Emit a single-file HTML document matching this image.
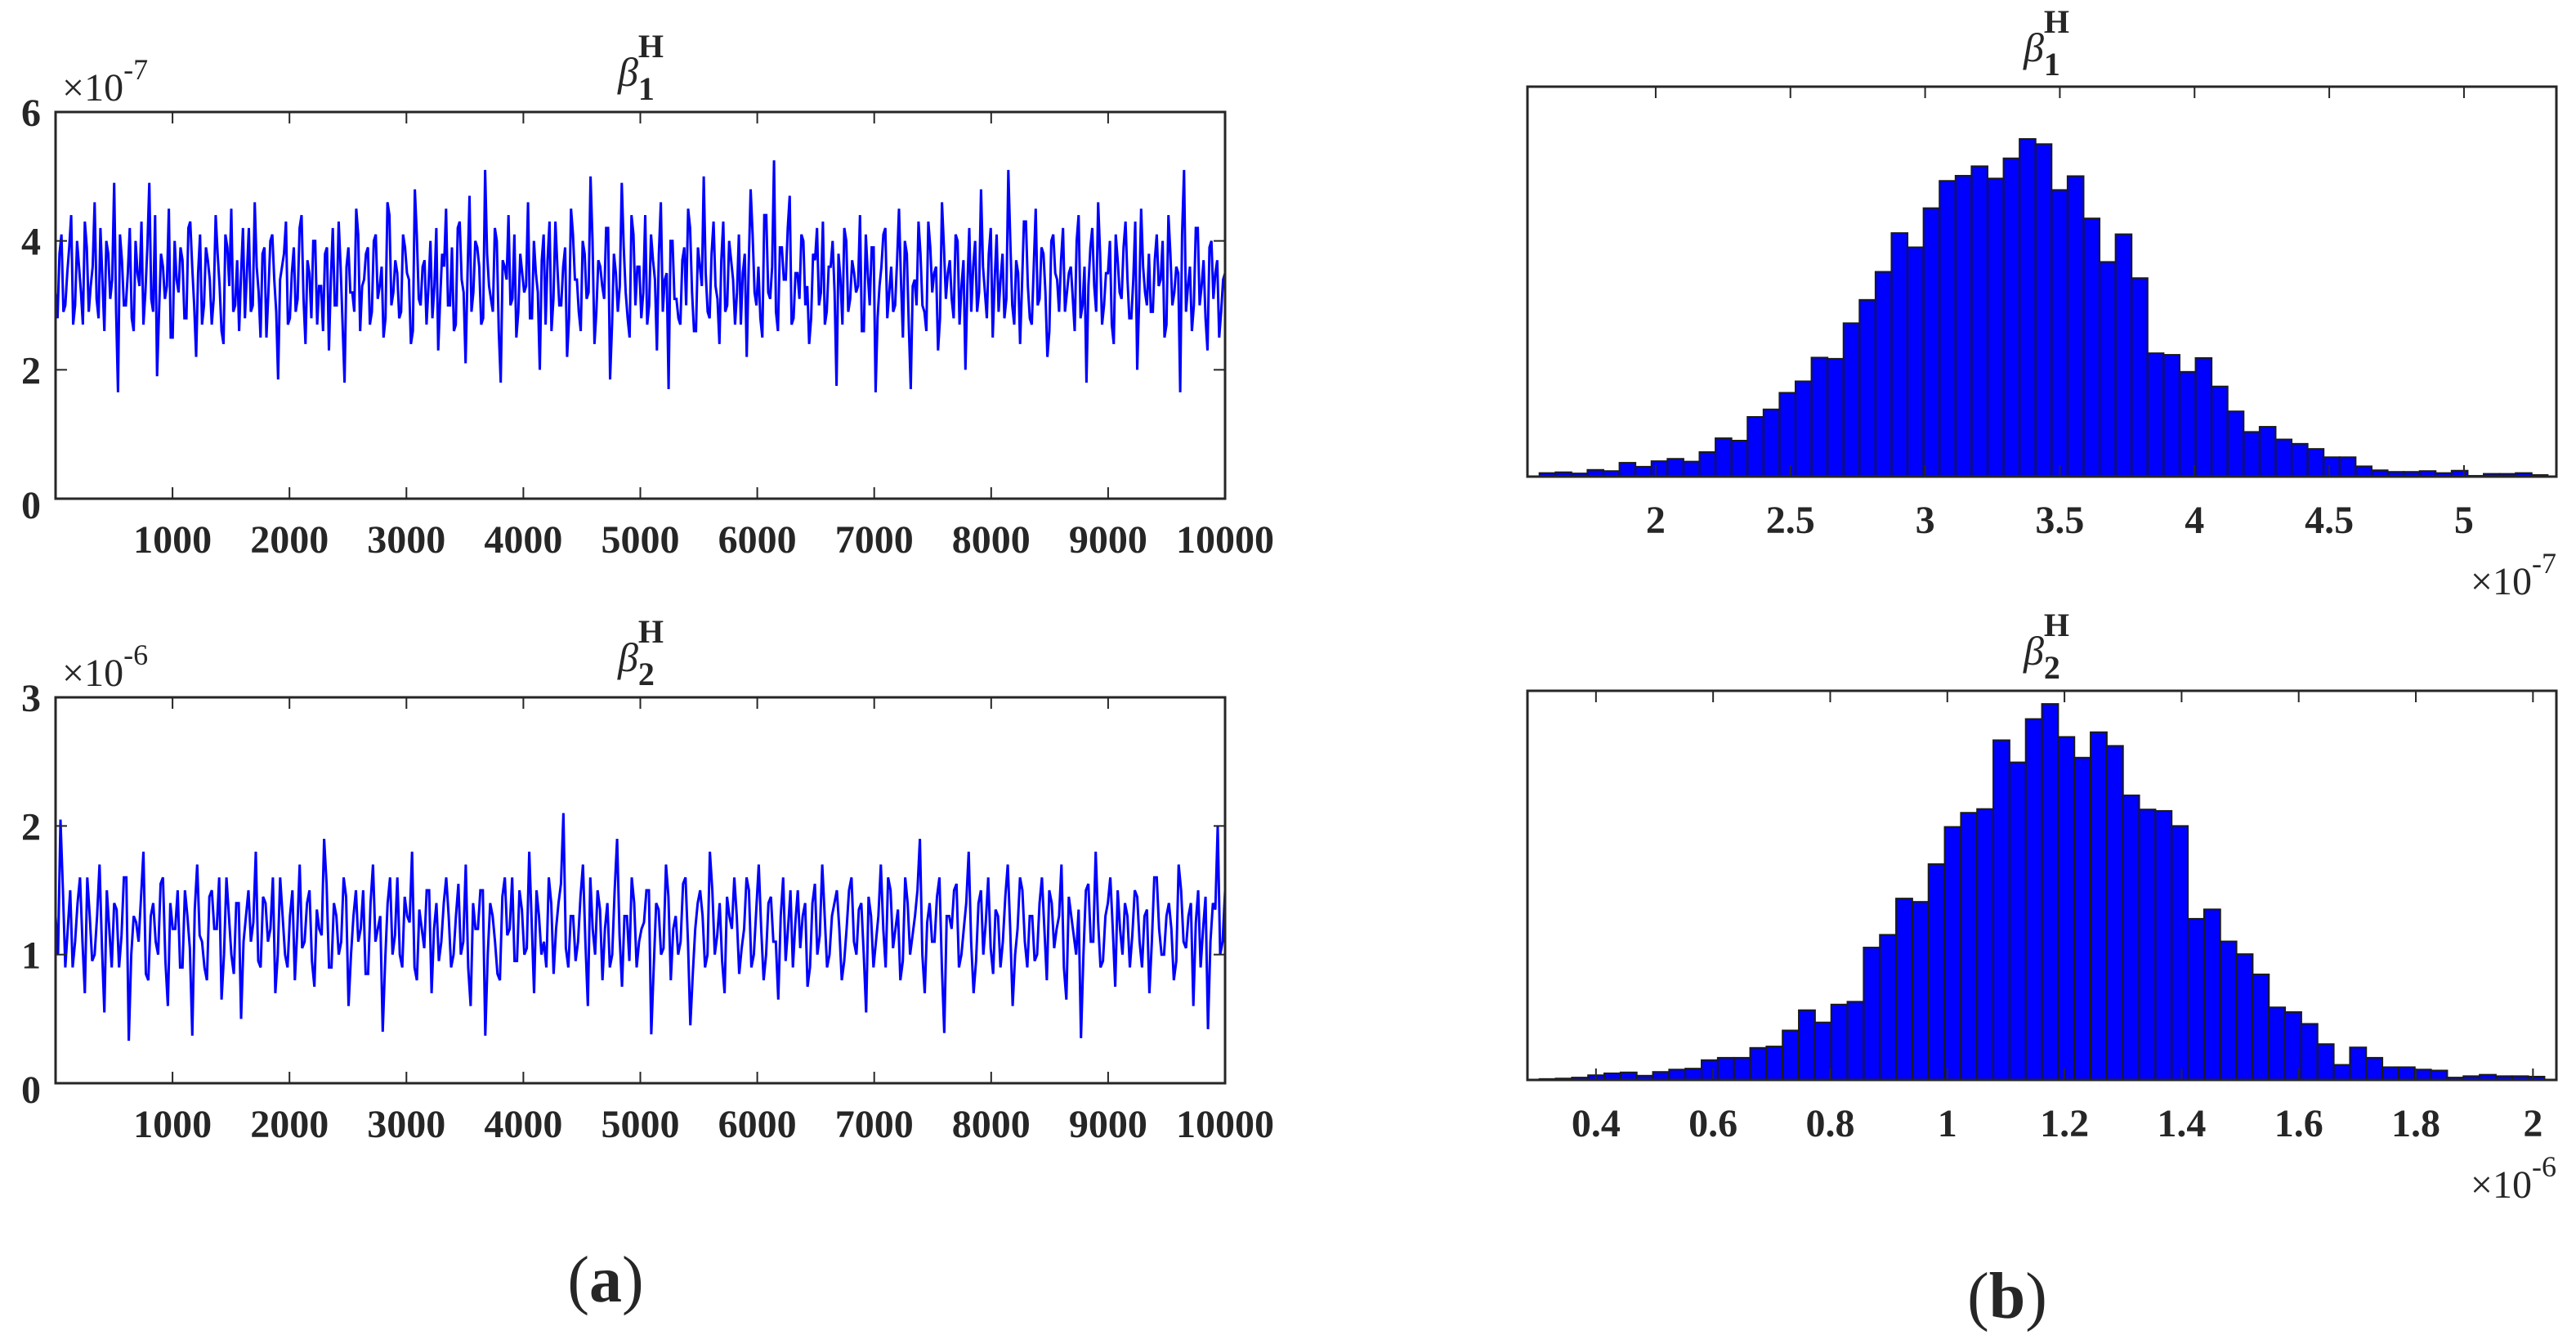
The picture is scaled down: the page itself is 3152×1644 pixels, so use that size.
<!DOCTYPE html>
<html><head><meta charset="utf-8"><style>
body{margin:0;background:#fff}
svg{display:block}
text{font-family:"Liberation Serif",serif;fill:#262626}
.tk{font-weight:bold;font-size:48px}
</style></head><body>
<svg id="fig" width="3152" height="1644" viewBox="0 0 3152 1644" xmlns="http://www.w3.org/2000/svg"></svg>
<script>
const trace1a = [3.2,3.8,2.9,3.5,4.4,3.0,3.6,2.7,3.9,3.3,4.6,2.8,3.4,4.0,3.1,4.9,1.65,3.7,3.0,4.2,
2.6,3.5,4.3,3.2,4.9,2.9,1.9,3.8,3.1,4.5,2.5,3.4,3.9,2.8,4.2,3.6,2.2,4.1,3.0,3.7,
2.7,4.4,3.3,2.4,3.9,4.5,3.0,2.6,4.2,3.5,2.9,4.6,3.2,3.8,2.5,4.0,3.4,1.85,3.6,4.3,
2.8,3.9,3.1,4.4,2.4,3.5,4.0,2.7,3.3,3.8,2.3,4.2,3.0,3.6,1.8,3.9,3.2,4.5,2.6,3.4,
3.9,2.9,4.1,3.3,2.5,4.6,3.0,3.7,2.8,4.1,3.5,2.4,4.8,3.1,3.6,2.7,4.0,3.3,2.3,3.8,
4.5,3.0,2.6,4.2,3.4,2.1,4.7,3.2,3.9,2.7,5.1,3.3,2.9,4.0,1.8,3.6,4.4,3.1,2.5,3.8,
3.2,4.6,2.8,3.5,2.0,4.1,3.7,2.6,4.3,3.0,3.6,2.2,4.5,3.4,2.9,4.0,3.1,5.0,2.4,3.7,
3.3,4.2,1.85,3.8,2.9,4.9,3.2,2.5,4.1,3.6,2.8,4.4,3.0,3.7,2.3,4.6,3.4,1.7,4.0,3.1,
2.7,3.9,4.5,3.2,2.6,3.6,5.0,2.9,3.8,3.3,2.4,4.3,3.0,3.7,2.7,4.1,3.5,2.2,4.8,3.2,
3.6,2.5,4.4,3.1,5.25,2.6,3.9,3.4,4.7,2.8,3.5,4.1,3.0,2.4,3.8,4.2,3.2,2.7,3.6,4.0,
1.75,3.4,4.2,2.9,3.7,3.2,4.4,2.6,3.5,3.9,1.65,3.3,4.1,2.8,3.6,3.0,4.5,2.5,3.8,1.7,
3.4,4.3,3.0,2.6,3.9,3.5,2.3,4.6,3.1,3.7,2.8,4.0,3.3,2.0,4.2,3.6,2.9,4.8,3.2,3.8,
2.5,4.1,3.4,2.8,5.1,3.0,3.7,2.4,4.3,3.3,2.7,4.5,3.1,3.8,2.2,4.0,3.5,2.9,4.2,3.2,
3.6,2.6,4.4,3.0,1.8,3.9,3.3,4.6,2.7,3.5,4.0,2.4,3.7,3.1,4.3,2.8,3.4,2.0,4.5,3.2,
3.8,2.9,4.1,3.4,2.5,4.4,3.0,3.6,1.65,5.1,3.3,2.6,4.2,3.0,3.7,2.3,4.0,3.5,2.5,3.4];
const trace1b = [2.8,4.1,3.0,3.9,2.7,4.0,3.2,4.3,2.9,3.6,3.1,4.2,2.6,3.8,3.4,2.9,4.1,3.0,3.5,2.8,
4.0,3.3,2.7,3.9,3.1,4.4,2.9,3.6,3.3,2.5,4.0,3.2,3.7,2.8,4.3,3.0,3.5,2.7,3.9,3.4,
3.1,3.8,2.6,4.1,3.3,2.9,3.7,3.5,2.8,4.2,3.0,3.6,2.5,3.9,3.2,4.1,2.9,3.4,3.8,2.7,
3.5,2.9,4.2,3.1,3.7,2.8,4.0,3.3,2.6,3.9,3.4,3.0,4.3,2.7,3.6,3.2,2.9,4.1,3.3,3.8,
2.7,4.0,3.1,3.6,2.8,4.4,3.2,3.5,2.9,3.9,3.4,2.6,4.1,3.0,3.7,3.3,2.8,4.2,3.1,3.6,
3.0,3.9,2.7,4.3,3.2,3.5,2.9,4.0,3.6,2.8,3.8,3.1,4.2,2.6,3.7,3.4,3.0,4.1,2.9,3.5,
3.3,2.8,4.0,3.2,3.7,2.7,4.3,3.1,3.6,3.0,3.9,2.8,4.1,3.4,2.6,3.8,3.2,4.0,2.9,3.6,
3.1,4.2,2.7,3.5,3.3,3.9,2.8,4.4,3.0,3.6,3.2,2.7,4.1,3.4,3.8,2.9,3.5,4.0,3.1,2.8,
3.7,3.0,4.2,2.6,3.9,3.3,3.5,2.8,4.3,3.1,3.7,2.9,4.0,3.4,3.2,2.7,3.8,3.6,4.1,3.0,
2.8,4.4,3.2,3.6,2.9,3.9,3.4,4.2,2.7,3.5,3.1,4.0,3.3,2.8,3.7,3.0,4.3,2.9,3.6,3.2,
3.8,2.7,4.0,3.1,3.5,3.3,2.6,4.1,3.0,3.9,2.8,3.6,4.2,3.2,2.9,3.7,3.4,4.0,2.7,3.3,
3.0,3.8,2.9,4.3,3.2,3.6,2.8,3.9,3.5,3.1,4.1,2.7,3.7,3.3,2.9,4.0,3.2,3.6,2.8,4.2,
3.4,2.9,3.8,3.1,4.0,2.7,3.5,3.3,4.3,2.8,3.6,3.0,3.9,3.2,2.6,4.1,3.4,3.7,2.9,3.5,
3.1,4.0,2.8,3.6,3.3,4.2,2.9,3.8,3.0,3.5,2.7,4.1,3.2,3.9,3.4,2.8,4.3,3.1,3.6,3.0,
2.9,3.7,3.3,4.0,2.7,3.8,3.2,3.5,4.1,2.9,3.6,3.0,4.2,3.3,2.8,3.9,3.1,3.7,2.9,3.5];
const trace2a = [1.3,2.05,0.9,1.5,1.1,1.6,0.7,1.3,1.0,1.7,0.55,1.2,1.4,0.9,1.6,0.33,1.3,1.1,1.8,0.8,
1.4,1.0,1.6,0.6,1.2,1.5,0.9,1.3,0.37,1.7,1.1,0.8,1.5,1.2,0.65,1.6,1.0,1.4,0.5,1.3,
1.1,1.8,0.9,1.4,1.2,0.7,1.6,1.0,1.3,0.8,1.7,1.1,1.5,0.75,1.2,1.9,0.9,1.4,1.0,1.6,
0.6,1.3,1.1,1.5,0.85,1.7,1.2,0.4,1.4,1.0,1.6,0.9,1.3,1.8,0.8,1.2,1.5,0.7,1.4,1.1,
1.6,0.9,1.3,1.0,1.7,0.6,1.2,1.5,0.37,1.4,1.1,0.8,1.6,1.2,0.95,1.5,1.0,1.8,0.7,1.3,
1.1,1.6,0.85,1.4,2.1,0.9,1.3,1.1,1.7,0.6,1.2,1.5,0.8,1.4,1.0,1.9,0.75,1.3,1.6,0.9,
1.2,1.5,0.38,1.4,1.0,1.7,0.8,1.3,1.1,1.6,0.45,1.2,1.5,0.9,1.8,1.0,1.4,0.7,1.3,1.6,
0.85,1.2,1.5,1.0,1.7,0.8,1.4,1.1,0.65,1.6,1.2,0.9,1.5,1.3,0.75,1.4,1.0,1.7,0.9,1.3,
1.5,0.8,1.2,1.6,1.0,1.4,0.55,1.3,1.1,1.7,0.9,1.5,1.2,0.8,1.6,1.0,1.3,1.9,0.7,1.4,
1.1,1.6,0.39,1.3,1.5,0.9,1.2,1.8,0.7,1.4,1.0,1.6,0.85,1.3,1.1,1.7,0.6,1.2,1.5,0.9,
1.3,1.0,1.6,0.8,1.4,1.2,1.7,0.65,1.3,1.0,0.35,1.5,1.1,1.8,0.9,1.3,1.6,0.75,1.2,1.4,
0.9,1.5,1.1,1.3,0.7,1.6,1.2,1.0,1.4,0.8,1.7,1.1,1.3,0.6,1.5,1.2,0.42,1.4,2.0,1.1];
const trace2b = [1.0,1.5,1.2,0.9,1.4,1.1,1.6,0.95,1.3,1.05,1.5,0.9,1.35,1.15,1.6,1.0,1.25,1.45,0.85,1.3,
1.1,1.55,0.95,1.4,1.2,0.9,1.5,1.05,1.35,1.15,0.9,1.45,1.2,1.6,1.0,1.3,0.85,1.4,1.1,1.5,
1.25,0.95,1.45,1.1,1.6,1.0,1.3,0.9,1.5,1.2,1.05,1.4,0.95,1.35,1.15,1.55,0.9,1.3,1.1,1.45,
1.0,1.5,1.2,0.85,1.4,1.1,1.3,0.95,1.6,1.15,1.0,1.45,1.25,0.9,1.35,1.05,1.5,1.2,0.95,1.4,
1.3,1.0,1.55,1.1,0.9,1.4,1.2,1.5,1.0,1.3,0.85,1.45,1.15,1.6,0.95,1.35,1.05,1.25,1.5,1.0,
0.9,1.4,1.2,1.55,1.05,1.3,0.95,1.45,1.1,1.6,1.0,1.35,1.2,0.9,1.5,1.15,1.3,0.95,1.4,1.1,
1.25,1.5,0.9,1.35,1.05,1.45,1.2,1.0,1.55,1.1,0.85,1.4,1.3,1.0,1.5,1.15,0.95,1.45,1.2,1.3,
1.05,1.6,0.9,1.35,1.2,1.0,1.45,1.1,1.3,0.95,1.5,1.25,1.05,1.4,0.9,1.55,1.15,1.3,1.0,1.4,
1.2,0.95,1.5,1.1,1.35,1.0,1.45,0.9,1.3,1.2,1.6,1.05,1.35,0.95,1.4,1.15,1.5,1.0,1.25,1.1,
1.45,0.9,1.3,1.2,1.55,1.0,1.4,1.1,0.95,1.5,1.25,1.05,1.35,0.9,1.45,1.2,1.0,1.6,1.1,1.3,
0.95,1.4,1.2,1.5,1.05,1.3,0.9,1.45,1.15,1.35,1.0,1.55,1.1,1.25,0.95,1.4,1.2,1.5,1.0,1.3,
1.15,1.45,0.9,1.35,1.1,1.6,1.0,1.3,1.2,0.95,1.5,1.05,1.4,1.25,0.9,1.45,1.1,1.35,1.0,1.5];
const traceXTicks = [1000,2000,3000,4000,5000,6000,7000,8000,9000,10000];
const trace1YTicks = [0,2,4,6];
const trace2YTicks = [0,1,2,3];
const hist1Counts = [9,11,8,17,14,35,25,39,45,38,62,97,91,151,170,212,241,301,298,388,447,518,616,580,679,748,761,785,754,805,854,841,725,760,653,543,613,502,312,308,265,300,228,165,113,126,94,83,70,49,49,26,16,12,12,14,9,15,2,7,7,9,4];
const hist1Start = 1.5685, hist1Width = 0.0594;
const hist1Ticks = [2,2.5,3,3.5,4,4.5,5];
const hist2Counts = [2,3,5,10,14,16,9,17,22,24,42,47,47,68,71,105,148,122,160,166,281,308,385,378,458,537,567,575,721,674,766,798,728,684,738,709,604,574,571,539,342,362,294,267,224,154,144,119,76,32,69,47,27,27,22,20,5,8,11,8,8,7];
const hist2Start = 0.3035, hist2Width = 0.02768;
const hist2Ticks = [0.4,0.6,0.8,1,1.2,1.4,1.6,1.8,2];

const NS="http://www.w3.org/2000/svg", svg=document.getElementById('fig');
function mk(tag,attrs,parent){const e=document.createElementNS(NS,tag);for(const k in attrs)e.setAttribute(k,attrs[k]);(parent||svg).appendChild(e);return e;}
function scale(d0,d1,r0,r1){return v=>r0+(v-d0)/(d1-d0)*(r1-r0);}
function interleave(a,b){const out=[];for(let i=0;i<a.length;i++){out.push(a[i]);if(i<b.length)out.push(b[i]);}return out;}
function txt(s,x,y,cls,anchor,parent,name){const t=mk('text',{x:x,y:y,'text-anchor':anchor||'middle'},parent);if(cls)t.setAttribute('class',cls);t.textContent=s;

return t;}
function title(cx,base,sub,parent){const t=mk('text',{x:cx-30,y:base,'font-size':'50'},parent);


const b=mk('tspan',{'font-style':'italic'},t);b.textContent='β';
const s=mk('tspan',{'font-weight':'bold','font-size':'40',dy:'17'},t);s.textContent=sub;
const h=mk('tspan',{'font-weight':'bold','font-size':'40',dx:'-20',dy:'-52'},t);h.textContent='H';}
function expo(x,y,e,anchor,parent){const t=mk('text',{x:x,y:y,'font-size':'48','text-anchor':anchor},parent);


const a=mk('tspan',{},t);a.textContent='×10';const b=mk('tspan',{dy:'-26','font-size':'36'},t);b.textContent=e;}

function tracePlot(name,data,yTicks,ymax,top,bottom,exp){
  const g=mk('g',{});
  
  
  const L=68,R=1499;
  const xs=scale(0,10000,L,R), ys=scale(0,ymax,bottom,top);
  const n=data.length;
  const pts=data.map((v,i)=>xs(i*10000/(n-1)).toFixed(1)+','+ys(v).toFixed(1)).join(' ');
  const pl=mk('polyline',{points:pts,fill:'none',stroke:'#0000ff','stroke-width':'3','stroke-linejoin':'miter'},g);
  
  
  const box=mk('rect',{x:L,y:top,width:R-L,height:bottom-top,fill:'none',stroke:'#262626','stroke-width':'3'},g);
  
  
  traceXTicks.forEach(v=>{const x=xs(v);
    mk('line',{x1:x,y1:bottom,x2:x,y2:bottom-14,stroke:'#262626','stroke-width':'2'},g);
    mk('line',{x1:x,y1:top,x2:x,y2:top+14,stroke:'#262626','stroke-width':'2'},g);
    txt(String(v),x,bottom+66,'tk','middle',g,'x-tick-label');});
  yTicks.forEach(v=>{const y=ys(v);
    mk('line',{x1:L,y1:y,x2:L+14,y2:y,stroke:'#262626','stroke-width':'2'},g);
    mk('line',{x1:R,y1:y,x2:R-14,y2:y,stroke:'#262626','stroke-width':'2'},g);
    txt(String(v),38,y+(v===0?24:17),'tk','middle',g,'y-tick-label');});
  expo(76,top-14,exp,'start',g);
}
tracePlot('trace-beta1',interleave(trace1a,trace1b),trace1YTicks,6,137,610,'-7');
title(786,105,'1');
tracePlot('trace-beta2',interleave(trace2a,trace2b),trace2YTicks,3,853,1325,'-6');
title(786,821,'2');

function histPlot(name,counts,start,width,ticks,xmin,xmax,top,bottom,headroom,exp,labelY,expY){
  const g=mk('g',{});
  
  
  const L=1869,R=3128;
  const xs=scale(xmin,xmax,L,R);
  const cmax=Math.max(...counts);
  const ys=scale(0,cmax*headroom,bottom,top);
  counts.forEach((c,i)=>{const x0=xs(start+i*width),x1=xs(start+(i+1)*width);
    const r=mk('rect',{x:x0,y:ys(c),width:x1-x0,height:bottom-ys(c),fill:'#0000ff',stroke:'#1a1a1a','stroke-width':'2'},g);
    
    });
  const box=mk('rect',{x:L,y:top,width:R-L,height:bottom-top,fill:'none',stroke:'#262626','stroke-width':'3'},g);
  
  
  ticks.forEach(v=>{const x=xs(v);
    mk('line',{x1:x,y1:top,x2:x,y2:top+14,stroke:'#262626','stroke-width':'2'},g);
    mk('line',{x1:x,y1:bottom,x2:x,y2:bottom-14,stroke:'#262626','stroke-width':'2'},g);
    txt(String(v),x,labelY,'tk','middle',g,'x-tick-label');});
  expo(R,expY,exp,'end',g);
}
histPlot('hist-beta1',hist1Counts,hist1Start,hist1Width,hist1Ticks,1.524,5.343,106,583,1.155,'-7',652,727);
title(2506,75,'1');
histPlot('hist-beta2',hist2Counts,hist2Start,hist2Width,hist2Ticks,0.283,2.040,845,1321,1.035,'-6',1390,1465);
title(2506,813,'2');

function subLabel(ch,cx,base,name){const t=mk('text',{x:cx,y:base,'text-anchor':'middle','font-size':'80'});


const a=mk('tspan',{},t);a.textContent='(';const b=mk('tspan',{'font-weight':'bold'},t);b.textContent=ch;const c=mk('tspan',{},t);c.textContent=')';}
subLabel('a',741,1592,'subfigure-label-a');
subLabel('b',2456,1612,'subfigure-label-b');
</script>
</body></html>
